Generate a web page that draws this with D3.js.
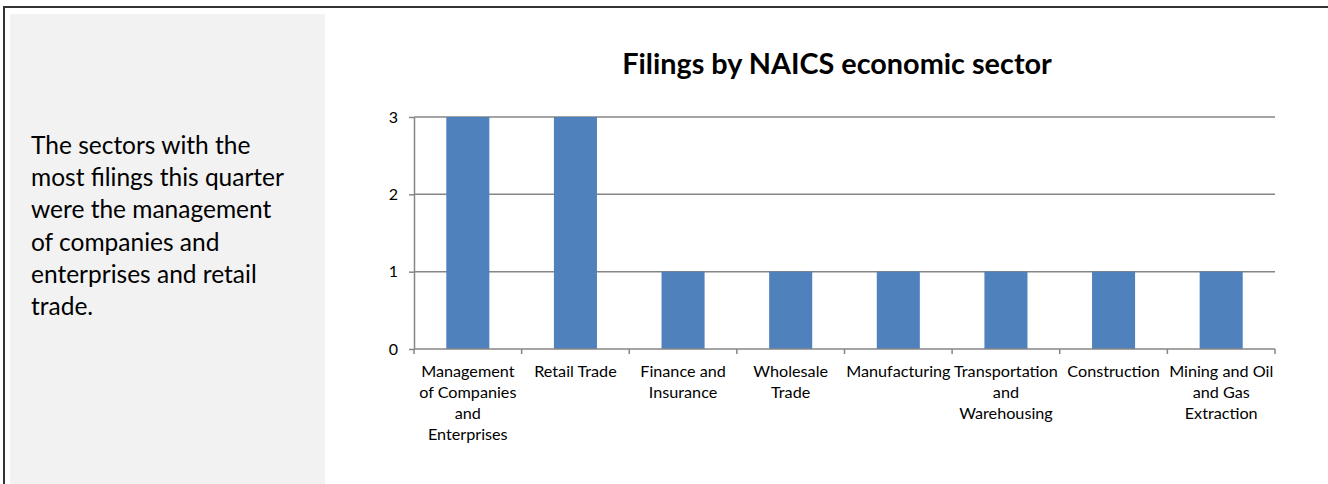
<!DOCTYPE html>
<html>
<head>
<meta charset="utf-8">
<script src="https://cdn.jsdelivr.net/npm/d3@7"></script>
<style>
  html, body { margin: 0; padding: 0; background: #fff; }
  svg { display: block; }
</style>
</head>
<body>
<div id="chart"></div>
<script>
const categories = [
  'Management of Companies and Enterprises',
  'Retail Trade',
  'Finance and Insurance',
  'Wholesale Trade',
  'Manufacturing',
  'Transportation and Warehousing',
  'Construction',
  'Mining and Oil and Gas Extraction'
]
const filings = [3, 3, 1, 1, 1, 1, 1, 1]
const tickLabels = [
  ['Management', 'of Companies', 'and', 'Enterprises'],
  ['Retail Trade'],
  ['Finance and', 'Insurance'],
  ['Wholesale', 'Trade'],
  ['Manufacturing'],
  ['Transportation', 'and', 'Warehousing'],
  ['Construction'],
  ['Mining and Oil', 'and Gas', 'Extraction']
]
const yTicks = [0, 1, 2, 3]
const title = 'Filings by NAICS economic sector'
const note = [
  'The sectors with the',
  'most filings this quarter',
  'were the management',
  'of companies and',
  'enterprises and retail',
  'trade.'
]

const W = 1328
const H = 484
const font = 'Lato, "Open Sans", sans-serif'
const gridColor = '#868686'
const barColor = '#4f81bd'

const margin = { top: 117, right: 53, bottom: 135, left: 414 }

const data = categories.map((name, i) => ({ name, amount: filings[i], lines: tickLabels[i] }))

const svg = d3.select('#chart').append('svg')
  .attr('width', W)
  .attr('height', H)

// frame + side panel
svg.append('rect')
  .attr('x', 10).attr('y', 14)
  .attr('width', 315).attr('height', H - 14)
  .attr('fill', '#f2f2f2')

svg.append('path')
  .attr('d', `M4,${H} V7 H${W}`)
  .attr('fill', 'none')
  .attr('stroke', '#333')
  .attr('stroke-width', 2)

svg.append('g')
  .attr('font-family', font)
  .attr('font-size', 24.5)
  .attr('fill', '#000')
  .selectAll('text')
  .data(note)
  .join('text')
    .attr('x', 31)
    .attr('y', (d, i) => 154 + i * 32.2)
    .text((d) => d)

// chart
const x = d3.scaleBand()
  .domain(categories)
  .range([margin.left, W - margin.right])

const y = d3.scaleLinear()
  .domain([0, d3.max(yTicks)])
  .range([H - margin.bottom, margin.top])

svg.append('text')
  .attr('x', 837)
  .attr('y', 74)
  .attr('text-anchor', 'middle')
  .attr('font-family', font)
  .attr('font-weight', 'bold')
  .attr('font-size', 28.8)
  .text(title)

// gridlines
svg.append('g')
  .selectAll('line')
  .data(yTicks.filter((d) => d > 0))
  .join('line')
    .attr('x1', margin.left)
    .attr('x2', W - margin.right)
    .attr('y1', (d) => y(d))
    .attr('y2', (d) => y(d))
    .attr('stroke', gridColor)
    .attr('stroke-width', 1.5)

// bars
svg.append('g')
  .selectAll('rect')
  .data(data)
  .join('rect')
    .attr('x', (d) => x(d.name) + x.bandwidth() * 0.3)
    .attr('y', (d) => y(d.amount))
    .attr('width', x.bandwidth() * 0.4)
    .attr('height', (d) => y(0) - y(d.amount))
    .attr('fill', barColor)

// y axis
const yAxisG = svg.append('g')
  .attr('transform', `translate(${margin.left},0)`)
  .call(d3.axisLeft(y).tickValues(yTicks).tickSize(5).tickSizeOuter(0).tickPadding(11).tickFormat(d3.format('d')))
  .attr('font-family', font)
  .attr('font-size', 16)

yAxisG.select('.domain').attr('stroke', gridColor).attr('stroke-width', 1.5)
yAxisG.selectAll('.tick line').attr('stroke', gridColor).attr('stroke-width', 1.5)
yAxisG.selectAll('.tick text').attr('fill', '#000')

// x axis: baseline and ticks on band edges
const xAxisG = svg.append('g')
  .attr('transform', `translate(0,${y(0)})`)

xAxisG.append('line')
  .attr('x1', margin.left)
  .attr('x2', W - margin.right)
  .attr('stroke', gridColor)
  .attr('stroke-width', 1.5)

const edges = categories.map((c) => x(c)).concat([x.range()[1]])
xAxisG.selectAll('.edge')
  .data(edges)
  .join('line')
    .attr('class', 'edge')
    .attr('x1', (d) => d)
    .attr('x2', (d) => d)
    .attr('y1', 0)
    .attr('y2', 5)
    .attr('stroke', gridColor)
    .attr('stroke-width', 1.5)

const labels = xAxisG.selectAll('.label')
  .data(data)
  .join('text')
    .attr('class', 'label')
    .attr('text-anchor', 'middle')
    .attr('font-family', font)
    .attr('font-size', 16.2)
    .attr('fill', '#000')

labels.selectAll('tspan')
  .data((d) => d.lines.map((line) => ({ line, cx: x(d.name) + x.bandwidth() / 2 })))
  .join('tspan')
    .attr('x', (d) => d.cx)
    .attr('y', (d, i) => 28 + i * 21)
    .text((d) => d.line)
</script>
</body>
</html>
